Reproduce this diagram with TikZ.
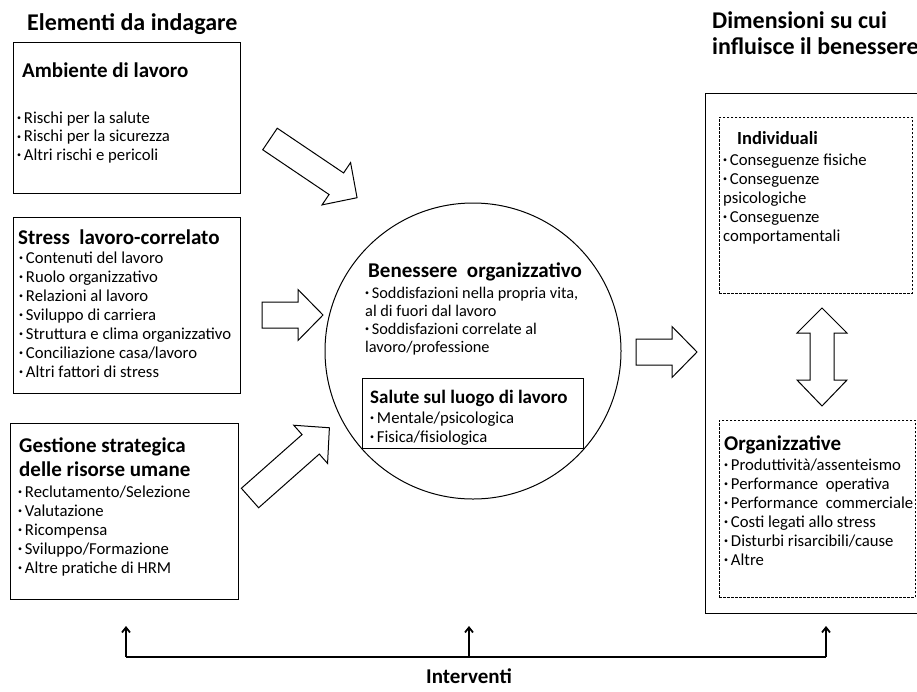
\documentclass[tikz,border=0pt]{standalone}
\usepackage{fontspec}
\setmainfont{Carlito}
\usetikzlibrary{arrows.meta,positioning}

\newcommand{\bul}{\raisebox{0.3ex}{\footnotesize •}\,}

\tikzset{
  box/.style={draw, line width=1pt, anchor=north west, inner sep=0pt},
  dbox/.style={draw, line width=0.9pt, dash pattern=on 2.5pt off 1.5pt, anchor=north west, inner sep=0pt},
  bighead/.style={font=\bfseries\fontsize{24}{26}\selectfont, anchor=base west, inner sep=0pt, align=left},
  head/.style={font=\bfseries\fontsize{21}{24}\selectfont, anchor=base west, inner sep=0pt, align=left},
  items/.style={font=\fontsize{16.7}{19}\selectfont, anchor=base west, inner sep=0pt, align=left},
  blk/.style={draw, line width=1pt, fill=white, line join=miter},
  pics/barrow/.style={code={
    \draw[blk] (0,-13) -- (#1-25,-13) -- (#1-25,-25.5) -- (#1,0)
      -- (#1-25,25.5) -- (#1-25,13) -- (0,13) -- cycle;}},
  ivline/.style={line width=2.2pt},
  ivarrow/.style={line width=1.8pt, -{Straight Barb[length=5pt,width=8pt]}}
}

\begin{document}
\begin{tikzpicture}[x=1pt,y=-1pt]
    \useasboundingbox (0,0) rectangle (917,691);

    % Titles (multi-line nodes sit on the baseline of their last line)
    \node[bighead] (tleft) at (27,30) {Elementi da indagare};
    \node[bighead] (tright) at (712,54) {Dimensioni su cui\\influisce il benessere};

    % Left boxes
    \node[box, minimum width=227pt, minimum height=151pt] (amb) at (13,42) {};
    \node[head] (ambh) at (22,77) {Ambiente di lavoro};
    \node[items, font=\fontsize{16.7}{18.5}\selectfont] (ambl) at (17,160) {\bul Rischi per la salute\\ \bul Rischi per la sicurezza\\ \bul Altri rischi e pericoli};

    \node[box, minimum width=227pt, minimum height=176pt] (str) at (13,217) {};
    \node[head] (strh) at (18,244) {Stress\ \ lavoro-correlato};
    \node[items] (strl) at (19,377) {\bul Contenuti del lavoro\\ \bul Ruolo organizzativo\\ \bul Relazioni al lavoro\\
      \bul Sviluppo di carriera\\ \bul Struttura e clima organizzativo\\ \bul Conciliazione casa/lavoro\\ \bul Altri fattori di stress};

    \node[box, minimum width=228pt, minimum height=176pt] (ges) at (10,423) {};
    \node[head] (gesh) at (19,476) {Gestione strategica\\delle risorse umane};
    \node[items] (gesl) at (18,573) {\bul Reclutamento/Selezione\\ \bul Valutazione\\ \bul Ricompensa\\
      \bul Sviluppo/Formazione\\ \bul Altre pratiche di HRM};

    % Centre
    \node[draw, circle, minimum size=296pt, inner sep=0pt, line width=1pt] (ben) at (473,351) {};
    \node[head] (benh) at (368,277) {Benessere\ \ organizzativo};
    \node[items, font=\fontsize{16.3}{18}\selectfont] (benl) at (365,352) {\bul Soddisfazioni nella propria vita,\\al di fuori dal lavoro\\
      \bul Soddisfazioni correlate al\\lavoro/professione};
    \node[box, minimum width=221pt, minimum height=70pt] (sal) at (362,378) {};
    \node[head, font=\bfseries\fontsize{19}{22}\selectfont] (salh) at (370,403) {Salute sul luogo di lavoro};
    \node[items] (sall) at (370,442) {\bul Mentale/psicologica\\ \bul Fisica/fisiologica};

    % Right side
    \node[box, minimum width=230pt, minimum height=520pt] (dim) at (705,93) {};
    \node[dbox, minimum width=193pt, minimum height=176pt] (ind) at (719,117) {};
    \node[head, font=\bfseries\fontsize{18.5}{22}\selectfont] (indh) at (737,144) {Individuali};
    \node[items] (indl) at (723,241) {\bul Conseguenze fisiche\\ \bul Conseguenze\\psicologiche\\ \bul Conseguenze\\comportamentali};

    \node[dbox, minimum width=196pt, minimum height=177pt] (org) at (719,420) {};
    \node[head] (orgh) at (724,450) {Organizzative};
    \node[items] (orgl) at (724,565) {\bul Produttività/assenteismo\\ \bul Performance\ \ operativa\\ \bul Performance\ \ commerciale\\
      \bul Costi legati allo stress\\ \bul Disturbi risarcibili/cause\\ \bul Altre};

    % Block arrows
    \pic[rotate=-34] (a1) at (270,139) {barrow=105};
    \pic (a2) at (262,315) {barrow=61};
    \pic[rotate=41.5] (a3) at (250,498) {barrow=106};
    \pic (a4) at (636,352) {barrow=61};
    \draw[blk] (822,308) -- (847,333) -- (834,333) -- (834,380) -- (847,380) -- (822,406)
      -- (797,380) -- (810,380) -- (810,333) -- (797,333) -- cycle;

    % Interventi
    \node[font=\bfseries\fontsize{21}{24}\selectfont] (iv) at (469,676) {Interventi};
    \coordinate (ivL) at (126,657);
    \coordinate (ivM) at (469,657);
    \coordinate (ivR) at (826,657);
    \draw[ivline] (ivL) -- (ivR);
    \draw[ivarrow] (ivL) -- ++(0,-31);
    \draw[ivarrow] (ivM) -- ++(0,-31);
    \draw[ivarrow] (ivR) -- ++(0,-31);
\end{tikzpicture}
\end{document}
